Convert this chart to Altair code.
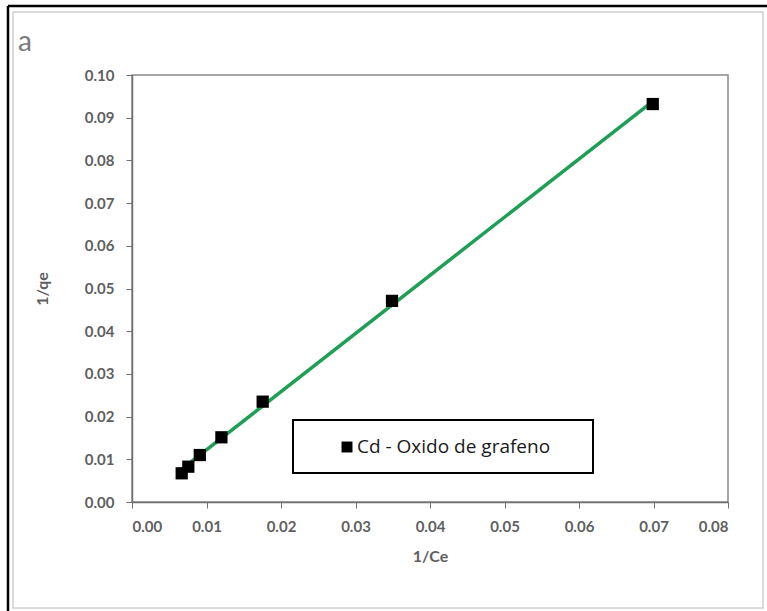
import altair as alt
import pandas as pd

# data
inv_ce = [0.00667, 0.00756, 0.0091, 0.0120, 0.01754, 0.0349, 0.0699]
inv_qe = [0.00672, 0.00827, 0.0110, 0.01515, 0.0235, 0.0471, 0.0932]
series_name = "Cd - Oxido de grafeno"
panel_label = "a"

df = pd.DataFrame({"x": inv_ce, "y": inv_qe})

W, H = 596, 427
L, T = 132, 75
FONT = "Lato"
GREY = "#5f5f5f"

xs = alt.Scale(domain=[0, 0.08], nice=False, zero=False)
ys = alt.Scale(domain=[0, 0.10], nice=False, zero=False)

xaxis = alt.Axis(values=[0, 0.01, 0.02, 0.03, 0.04, 0.05, 0.06, 0.07, 0.08], format=".2f",
                 title="1/Ce", grid=False, tickSize=6, labelPadding=11, titlePadding=14,
                 domainColor="#707070", tickColor="#707070", domainWidth=1.5,
                 labelColor=GREY, titleColor=GREY, labelFont=FONT, titleFont=FONT,
                 labelFontSize=15, titleFontSize=16, labelFontWeight="bold", titleFontWeight="bold")
yaxis = alt.Axis(values=[0, 0.01, 0.02, 0.03, 0.04, 0.05, 0.06, 0.07, 0.08, 0.09, 0.10], format=".2f",
                 title="1/qe", grid=False, tickSize=6, labelPadding=12, titlePadding=34,
                 domainColor="#707070", tickColor="#707070", domainWidth=1.5,
                 labelColor=GREY, titleColor=GREY, labelFont=FONT, titleFont=FONT,
                 labelFontSize=15, titleFontSize=16, labelFontWeight="bold", titleFontWeight="bold")

base = alt.Chart(df)

line = base.transform_regression("x", "y").mark_line(color="#1f9e55", strokeWidth=3.5).encode(
    x=alt.X("x:Q", scale=xs, axis=xaxis),
    y=alt.Y("y:Q", scale=ys, axis=yaxis),
)

pts = base.mark_point(shape="square", filled=True, color="black", size=150, opacity=1).encode(
    x=alt.X("x:Q", scale=xs),
    y=alt.Y("y:Q", scale=ys),
)

one = alt.Data(values=[{"label": series_name, "panel": panel_label}])

# outer frame
frame = alt.Chart(one).mark_rect(fill=None, stroke="#d0d0d0", strokeWidth=1.5).encode(
    x=alt.value(13 - L), x2=alt.value(763 - L), y=alt.value(12 - T), y2=alt.value(608 - T))
frame_left = alt.Chart(one).mark_rule(color="black", strokeWidth=2.5).encode(
    x=alt.value(8 - L), y=alt.value(6 - T), y2=alt.value(611 - T))
frame_top = alt.Chart(one).mark_rule(color="black", strokeWidth=2.5).encode(
    x=alt.value(8 - L), x2=alt.value(767 - L), y=alt.value(6 - T))

panel = alt.Chart(one).mark_text(font=FONT, fontSize=28, color="#7a7a7a", align="left",
                                 baseline="middle").encode(
    x=alt.value(18 - L), y=alt.value(43 - T), text="panel:N")

# legend box
leg_box = alt.Chart(one).mark_rect(fill="white", stroke="black", strokeWidth=2).encode(
    x=alt.value(293 - L), x2=alt.value(593 - L), y=alt.value(420 - T), y2=alt.value(473 - T))
leg_sym = alt.Chart(one).mark_point(shape="square", filled=True, color="black", size=120, opacity=1).encode(
    x=alt.value(347 - L), y=alt.value(447 - T))
leg_txt = alt.Chart(one).mark_text(font="Open Sans", fontSize=19, color="#1a1a1a", align="left",
                                   baseline="middle").encode(
    x=alt.value(357 - L), y=alt.value(447 - T), text="label:N")

chart = alt.layer(frame, frame_left, frame_top, panel, line, pts, leg_box, leg_sym, leg_txt).properties(
    width=W, height=H,
    autosize=alt.AutoSizeParams(type="none"),
    padding={"left": L, "top": T, "right": 767 - L - W, "bottom": 611 - T - H},
    background="white",
).configure_view(stroke="#8a8a8a", strokeWidth=1.5)

chart.save("out.html", embed_options={"renderer": "svg", "actions": False})
